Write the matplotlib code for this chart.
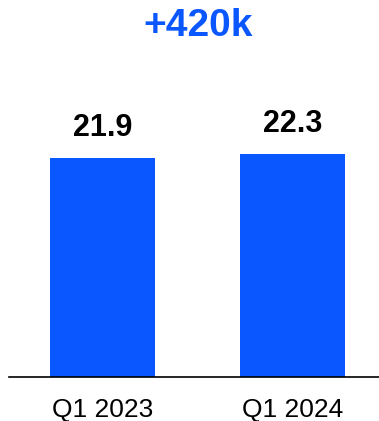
import matplotlib
matplotlib.use("Agg")
import matplotlib.pyplot as plt

categories = ["Q1 2023", "Q1 2024"]
values = [21.9, 22.3]
value_labels = ["21.9", "22.3"]
title_text = "+420k"

BLUE = "#0A57FF"
plt.rcParams['font.family'] = ['Liberation Sans', 'DejaVu Sans']

fig = plt.figure(figsize=(3.79, 4.21), dpi=100)
ax = fig.add_axes([9/379, 44/421, 370/379, 300/421])
x = list(range(len(categories)))
bars = ax.bar(x, values, width=105/190, color=BLUE)
ax.set_xlim(-93.5/190, 276.5/190)
ax.set_ylim(0, 30)
for b, lab in zip(bars, value_labels):
    ax.annotate(lab, (b.get_x() + b.get_width()/2, b.get_height()),
                xytext=(0, 10.5), textcoords="offset points",
                ha="center", va="bottom", fontsize=22, fontweight="bold", color="black")
ax.set_xticks(x)
ax.set_xticklabels(categories, fontsize=19)
ax.tick_params(axis="x", length=0, pad=15)
ax.set_yticks([])
for s in ["top", "right", "left"]:
    ax.spines[s].set_visible(False)
ax.spines["bottom"].set_linewidth(1.2)
ax.spines["bottom"].set_color("black")
fig.text(198/379, (421-36)/421, title_text, ha="center", va="baseline",
         fontsize=28, fontweight="bold", color=BLUE)
fig.savefig("out.png", dpi=100)
